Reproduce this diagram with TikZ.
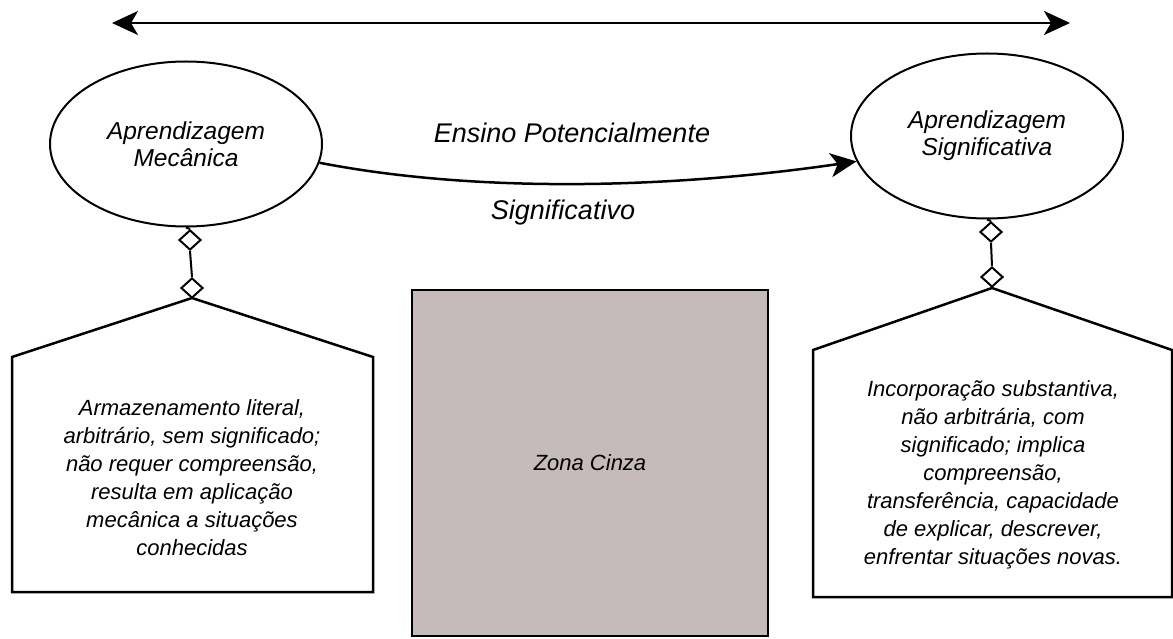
\documentclass[tikz,border=0pt]{standalone}
\usepackage{fontspec}
\setmainfont{Liberation Sans}
\usetikzlibrary{shapes.geometric,arrows.meta}
\definecolor{zona}{RGB}{196,187,186}
\begin{document}
\begin{tikzpicture}[x=1pt,y=-1pt,
  bubble/.style={ellipse,draw,line width=2pt,fill=white,minimum width=272pt,minimum height=165pt,inner sep=0pt,align=center,font=\fontsize{24.5}{27}\selectfont\itshape},
  link/.style={diamond,draw,line width=2pt,fill=white,minimum width=22pt,minimum height=20pt,inner sep=0pt},
  conn/.style={line width=2pt},
  tip/.tip={Stealth[length=26pt,width=24pt,inset=7pt]},
  bigarrow/.style={line width=2.5pt,-tip},
  house/.style={line width=2.5pt,line join=miter},
  desc/.style={align=center,font=\fontsize{22}{28}\selectfont\itshape,inner sep=0pt},
  lbl/.style={font=\fontsize{27}{30}\selectfont\itshape,inner sep=0pt,anchor=base}
]
\useasboundingbox (0,0) rectangle (1173,639);

% top double arrow
\coordinate (tl) at (112,23);
\coordinate (tr) at (1070,23);
\draw[line width=2.5pt,tip-tip] (tl) -- (tr);

% ellipses
\node[bubble] (am) at (186,144) {Aprendizagem\\Mecânica};
\node[bubble] (as) at (987,136) {Aprendizagem\\Significativa};

% middle curved arrow
\draw[bigarrow] (am.-8) .. controls (470,192) and (660,190) .. (as.191);
\node[lbl] (l1) at (572,143) {Ensino Potencialmente};
\node[lbl] (l2) at (563,220) {Significativo};

% gray zone
\node[draw,fill=zona,line width=2.5pt,minimum width=356pt,minimum height=346pt,inner sep=0pt,font=\fontsize{22}{26}\selectfont\itshape] (zona) at (590,463) {Zona Cinza};

% left house
\coordinate (lapex) at (192,298);
\draw[house] (12,592) -- (12,357) -- (lapex) -- (373,357) -- (373,592) -- cycle;
\node[desc] (ltext) at (192,478) {Armazenamento literal,\\arbitrário, sem significado;\\não requer compreensão,\\resulta em aplicação\\mecânica a situações\\conhecidas};
\node[link] (ld1) at (190,240) {};
\node[link] (ld2) at (192,288) {};
\draw[conn] (am.south) -- (ld1.north);
\draw[conn] (ld1.south) -- (ld2.north);
\draw[conn] (ld2.south) -- (lapex);

% right house
\coordinate (rapex) at (992,288);
\draw[house] (813,597) -- (813,350) -- (rapex) -- (1172,350) -- (1172,597) -- cycle;
\node[desc] (rtext) at (993,475) {Incorporação substantiva,\\não arbitrária, com\\significado; implica\\compreensão,\\transferência, capacidade\\de explicar, descrever,\\enfrentar situações novas.};
\node[link] (rd1) at (991,232) {};
\node[link] (rd2) at (992,277) {};
\draw[conn] (as.south) -- (rd1.north);
\draw[conn] (rd1.south) -- (rd2.north);
\draw[conn] (rd2.south) -- (rapex);
\end{tikzpicture}
\end{document}
